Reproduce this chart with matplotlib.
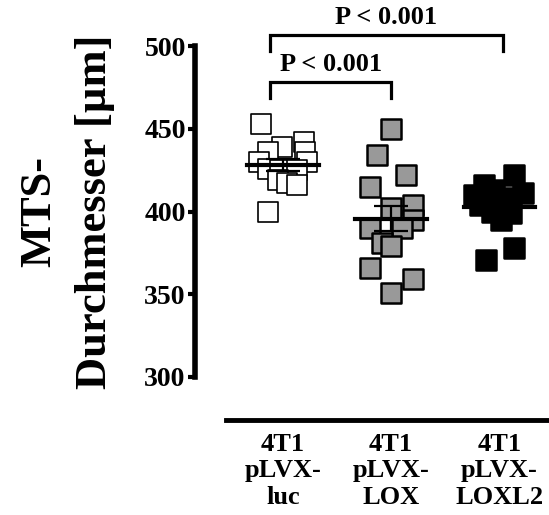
import numpy as np
import matplotlib
matplotlib.use("Agg")
import matplotlib.pyplot as plt

plt.rcParams['font.family'] = ['Liberation Serif', 'DejaVu Serif']
plt.rcParams['font.weight'] = 'bold'

# data
groups = ['4T1\npLVX-\nluc', '4T1\npLVX-\nLOX', '4T1\npLVX-\nLOXL2']

luc_vals = [453, 400, 442, 439, 436, 436, 430, 430, 426, 425, 425, 419, 417, 416]
luc_jit = [-0.20, -0.14, 0.19, -0.01, -0.14, 0.20, -0.22, 0.22, -0.14, -0.03, 0.13, -0.05, 0.04, 0.13]

lox_vals = [450, 434, 422, 415, 402, 404, 395, 390, 390, 381, 379, 366, 359, 351]
lox_jit = [0.0, -0.13, 0.14, -0.20, 0.0, 0.20, 0.20, -0.20, 0.10, -0.08, 0.0, -0.20, 0.20, 0.0]

loxl2_vals = [422, 416, 410, 411, 405, 400, 399, 395, 378, 371, 413, 408, 404]
loxl2_jit = [0.14, -0.14, -0.23, 0.22, 0.02, -0.07, 0.11, 0.02, 0.14, -0.12, -0.05, 0.07, -0.18]

p_text = ['P < 0.001', 'P < 0.001']

series = [
    (luc_vals, luc_jit, 'white', 1.2),
    (lox_vals, lox_jit, '#999999', 1.8),
    (loxl2_vals, loxl2_jit, 'black', 1.8),
]

fig = plt.figure(figsize=(5.49, 5.15), dpi=100)
ax = fig.add_axes([0.356, 0.268, 0.644, 0.6425])

for i, (vals, jit, fc, elw) in enumerate(series):
    vals = np.array(vals, dtype=float)
    xs = i + np.array(jit)
    ax.scatter(xs, vals, marker='s', s=200, facecolor=fc, edgecolor='black',
               linewidth=elw, zorder=3)
    m = vals.mean()
    sem = vals.std(ddof=1) / np.sqrt(len(vals))
    ax.plot([i - 0.33, i + 0.33], [m, m], color='black', lw=3, zorder=4)
    ax.errorbar(i, m, yerr=sem, color='black', capsize=12, capthick=1.6,
                elinewidth=1.6, zorder=4)

# significance brackets
def bracket(x0, x1, y, h, txt):
    ax.plot([x0, x0, x1, x1], [y - h, y, y, y - h], color='black', lw=2.3,
            clip_on=False, solid_joinstyle='miter')
    ax.text((x0 + x1) / 2, y + 3.5, txt, ha='center', va='bottom',
            fontsize=19, fontweight='bold')

bracket(-0.12, 1.0, 478.2, 9.5, p_text[0])
bracket(-0.12, 2.03, 506.6, 9.5, p_text[1])

ax.set_ylim(300, 500)
ax.set_xlim(-0.81, 2.46)
ax.set_yticks([300, 350, 400, 450, 500])
ax.set_xticks(range(3))
ax.set_xticklabels(groups, linespacing=1.08)
ax.tick_params(axis='y', labelsize=20, width=3, length=5, direction='out', pad=2)
ax.tick_params(axis='x', labelsize=19, length=0, pad=9)
for lab in ax.get_yticklabels() + ax.get_xticklabels():
    lab.set_fontweight('bold')

ax.spines['top'].set_visible(False)
ax.spines['right'].set_visible(False)
ax.spines['left'].set_linewidth(4)
ax.spines['bottom'].set_linewidth(3.5)
ax.spines['bottom'].set_position(('outward', 31))
ax.spines['bottom'].set_bounds(-0.53, 2.46)

ax.set_ylabel('MTS-\nDurchmesser [µm]', fontsize=32, fontweight='bold',
              linespacing=1.5, labelpad=21)

fig.savefig('out.png', dpi=100)
